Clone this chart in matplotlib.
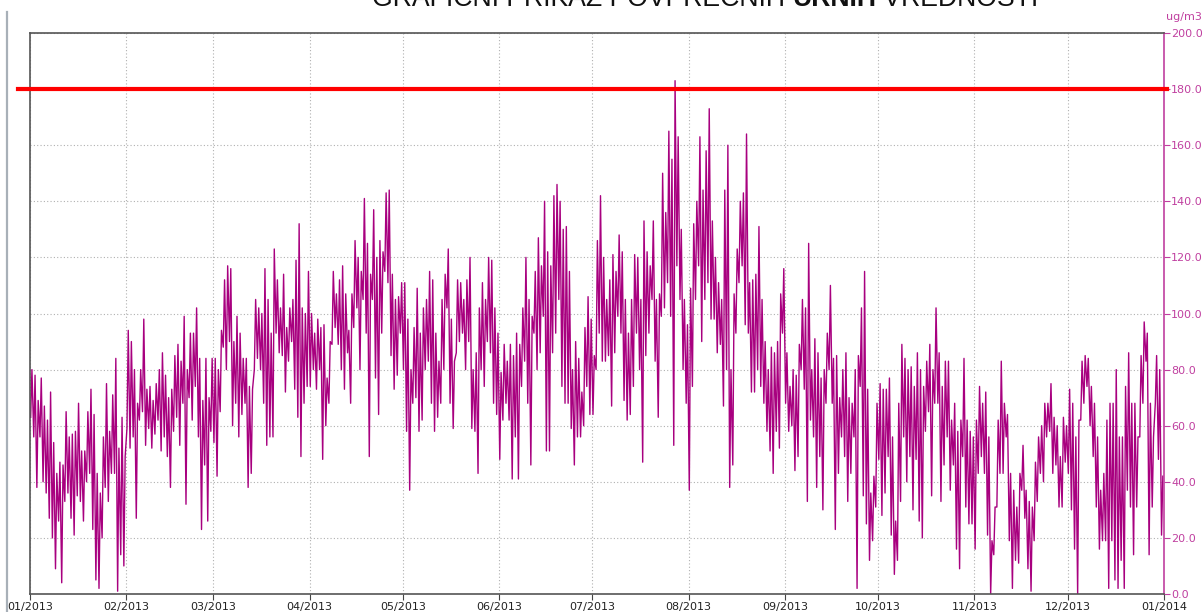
import pandas as pd
import matplotlib
matplotlib.use('Agg')
import matplotlib.pyplot as plt
from matplotlib.lines import Line2D

# daily maxima / minima of hourly values (ug/m3)
jan_hi = [80, 78, 69, 77, 67, 62, 72, 54, 43, 47, 46, 65, 56, 57, 58, 68, 51, 51, 65, 73, 64, 43, 36, 56, 75, 58, 71, 84, 52, 63, 49]
jan_lo = [63, 56, 38, 56, 40, 36, 27, 20, 9, 26, 4, 33, 36, 27, 21, 35, 33, 26, 40, 43, 23, 5, 2, 20, 38, 33, 43, 43, 1, 14, 10]
feb_hi = [94, 90, 80, 68, 80, 98, 73, 74, 69, 75, 80, 86, 78, 70, 73, 85, 89, 83, 99, 80, 93, 93, 102, 84, 69, 84, 70, 84]
feb_lo = [59, 52, 56, 27, 62, 65, 53, 59, 52, 57, 62, 51, 56, 49, 38, 58, 63, 53, 68, 32, 70, 62, 74, 56, 23, 46, 26, 58]
mar_hi = [84, 80, 94, 112, 117, 116, 90, 99, 93, 84, 84, 74, 73, 105, 102, 100, 116, 105, 93, 123, 112, 102, 114, 95, 102, 105, 119, 132, 102, 100, 115]
mar_lo = [54, 42, 65, 88, 80, 90, 60, 68, 56, 64, 68, 38, 43, 80, 84, 80, 68, 53, 56, 56, 93, 86, 85, 72, 83, 90, 73, 63, 49, 68, 74]
apr_hi = [100, 93, 98, 95, 96, 77, 90, 115, 107, 112, 117, 107, 94, 107, 126, 120, 115, 141, 125, 114, 137, 120, 126, 122, 143, 144, 114, 105, 106, 111]
apr_lo = [74, 80, 73, 80, 48, 60, 68, 89, 95, 89, 80, 73, 86, 68, 95, 102, 80, 105, 93, 49, 105, 77, 64, 93, 115, 111, 85, 73, 78, 93]
may_hi = [111, 98, 80, 95, 109, 93, 102, 105, 115, 112, 93, 83, 105, 114, 123, 98, 83, 112, 111, 105, 112, 120, 80, 86, 102, 111, 105, 120, 119, 102, 93]
may_lo = [80, 58, 37, 68, 70, 58, 62, 80, 83, 68, 58, 63, 68, 80, 102, 68, 59, 86, 90, 93, 80, 90, 59, 58, 43, 80, 74, 90, 86, 68, 64]
jun_hi = [79, 89, 83, 89, 85, 93, 89, 102, 120, 105, 99, 115, 127, 117, 140, 122, 117, 142, 146, 140, 130, 131, 115, 80, 90, 84, 72, 95, 106, 98]
jun_lo = [48, 62, 68, 62, 41, 56, 41, 74, 83, 68, 46, 93, 80, 86, 99, 51, 51, 86, 93, 105, 74, 68, 68, 59, 46, 56, 56, 60, 74, 64]
jul_hi = [85, 126, 142, 120, 105, 112, 121, 115, 128, 122, 105, 93, 105, 121, 120, 105, 133, 122, 117, 133, 105, 107, 150, 136, 165, 155, 183, 163, 130, 105, 96]
jul_lo = [64, 80, 93, 83, 83, 85, 67, 86, 99, 93, 69, 62, 64, 74, 93, 80, 47, 85, 93, 105, 83, 63, 99, 102, 111, 99, 53, 117, 105, 80, 68]
aug_hi = [109, 132, 140, 163, 144, 158, 173, 133, 120, 111, 105, 144, 160, 80, 107, 123, 140, 143, 164, 111, 112, 114, 131, 105, 90, 80, 88, 86, 90, 107, 116]
aug_lo = [37, 74, 105, 117, 90, 105, 111, 98, 98, 86, 89, 67, 80, 38, 46, 93, 111, 117, 96, 93, 72, 72, 80, 74, 68, 58, 51, 43, 58, 52, 93]
sep_hi = [86, 74, 80, 78, 89, 105, 102, 125, 80, 91, 86, 77, 80, 93, 110, 84, 85, 70, 80, 86, 70, 68, 80, 85, 102, 115, 73, 36, 42, 68]
sep_lo = [68, 58, 60, 44, 49, 80, 73, 33, 62, 56, 38, 49, 30, 68, 80, 68, 23, 43, 56, 49, 33, 43, 56, 2, 74, 35, 25, 12, 19, 31]
oct_hi = [75, 73, 73, 77, 56, 26, 68, 89, 84, 80, 81, 74, 86, 80, 74, 83, 89, 80, 102, 86, 74, 83, 83, 62, 68, 58, 62, 84, 62, 58, 56]
oct_lo = [48, 28, 36, 49, 21, 7, 12, 33, 56, 40, 49, 30, 48, 26, 20, 58, 65, 35, 68, 68, 33, 46, 56, 37, 46, 16, 9, 49, 31, 25, 25]
nov_hi = [62, 74, 68, 72, 56, 19, 31, 62, 83, 68, 64, 43, 37, 31, 43, 53, 37, 33, 31, 47, 56, 60, 68, 68, 75, 63, 60, 49, 63, 60]
nov_lo = [16, 43, 49, 43, 21, 0, 14, 31, 43, 43, 56, 19, 2, 12, 11, 37, 27, 9, 1, 19, 33, 43, 40, 56, 58, 43, 46, 31, 31, 47]
dec_hi = [73, 68, 56, 62, 83, 85, 84, 74, 68, 56, 37, 43, 62, 68, 68, 80, 56, 56, 74, 86, 68, 68, 56, 85, 97, 93, 68, 56, 85, 80, 42]
dec_lo = [43, 30, 16, 0, 62, 68, 74, 60, 49, 31, 16, 19, 19, 2, 19, 5, 2, 12, 2, 37, 31, 14, 31, 56, 68, 83, 14, 31, 68, 48, 21]

daily_hi = jan_hi + feb_hi + mar_hi + apr_hi + may_hi + jun_hi + jul_hi + aug_hi + sep_hi + oct_hi + nov_hi + dec_hi
daily_lo = jan_lo + feb_lo + mar_lo + apr_lo + may_lo + jun_lo + jul_lo + aug_lo + sep_lo + oct_lo + nov_lo + dec_lo

limit_value = 180
month_labels = ['01/2013', '02/2013', '03/2013', '04/2013', '05/2013', '06/2013', '07/2013',
                '08/2013', '09/2013', '10/2013', '11/2013', '12/2013', '01/2014']
y_ticks = [0, 20, 40, 60, 80, 100, 120, 140, 160, 180, 200]

days = pd.date_range('2013-01-01', periods=len(daily_hi), freq='D')
times = []
values = []
for day, lo, hi in zip(days, daily_lo, daily_hi):
    times.append(day + pd.Timedelta(hours=5))
    values.append(lo)
    times.append(day + pd.Timedelta(hours=15))
    values.append(hi)

line_col = '#a8007f'
axis_col = '#c040a0'

fig = plt.figure(figsize=(12.04, 6.12), dpi=100)
ax = fig.add_axes([30 / 1204, 18 / 612, 1134 / 1204, 561 / 612])

ax.plot(times, values, color=line_col, lw=1.0)
ax.axhline(limit_value, xmin=-0.011, xmax=1.003, color='#ff0000', lw=3, clip_on=False, zorder=5)

ax.set_xlim(pd.Timestamp('2013-01-01'), pd.Timestamp('2014-01-01'))
ax.set_ylim(0, 200)

month_pos = pd.date_range('2013-01-01', '2014-01-01', freq='MS')
ax.set_xticks(month_pos)
ax.set_xticklabels(month_labels, fontsize=8, color='#222222')
ax.tick_params(axis='x', direction='out', length=4, color='#444444', pad=2)

ax.yaxis.tick_right()
ax.set_yticks(y_ticks)
ax.set_yticklabels([f'{y:.1f}' for y in y_ticks], fontsize=8, color=axis_col)
ax.tick_params(axis='y', direction='out', length=4, color=axis_col, pad=1)

ax.grid(True, color='#b0b0b0', linestyle=(0, (1, 2)), lw=0.8)
ax.set_axisbelow(True)

for side in ['left', 'bottom', 'top']:
    ax.spines[side].set_color('#555555')
    ax.spines[side].set_linewidth(1.2)
ax.spines['right'].set_color(axis_col)
ax.spines['right'].set_linewidth(1.2)

fig.text(1166 / 1204, 1 - 20 / 612, 'ug/m3', fontsize=8, color=axis_col, ha='left', va='baseline')

fig.add_artist(Line2D([7 / 1204, 7 / 1204], [0, 1 - 12 / 612], color='#a8b0b8', lw=1.6))

# title, cut by the top edge as in the original
t1 = fig.text(372 / 1204, 1 - 6 / 612, 'GRAFIČNI PRIKAZ POVPREČNIH ', fontsize=19.2,
              family='Liberation Sans', color='#111111', ha='left', va='baseline')
t2 = ax.annotate('URNIH', xy=(1, 0), xycoords=t1, fontsize=19.2, family='Liberation Sans',
                 fontweight='bold', color='#111111', ha='left', va='bottom')
ax.annotate(' VREDNOSTI', xy=(1, 0), xycoords=t2, fontsize=19.2, family='Liberation Sans',
            color='#111111', ha='left', va='bottom')

fig.savefig('out.png', dpi=100)
